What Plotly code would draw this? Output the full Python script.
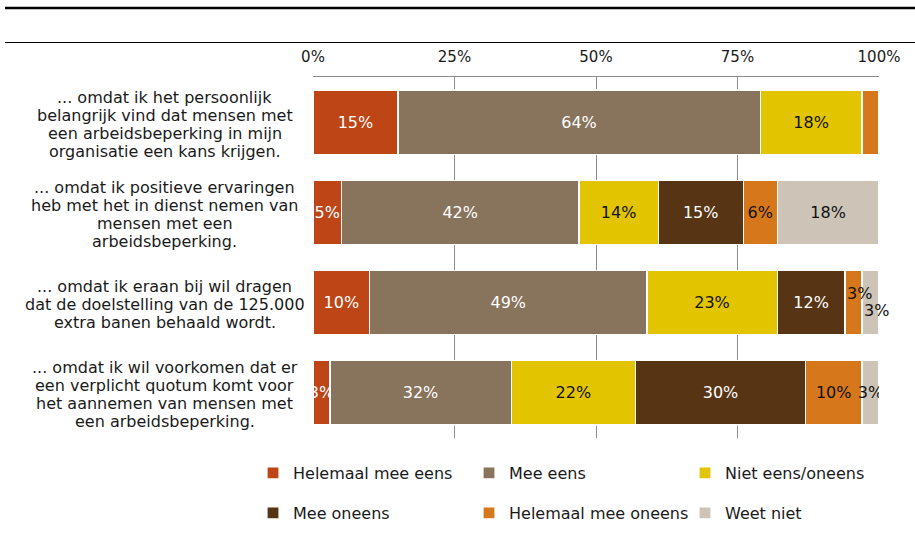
import plotly.graph_objects as go

# Survey statements (top to bottom)
categories = [
    "... omdat ik het persoonlijk<br>belangrijk vind dat mensen met<br>een arbeidsbeperking in mijn<br>organisatie een kans krijgen.",
    "... omdat ik positieve ervaringen<br>heb met het in dienst nemen van<br>mensen met een<br>arbeidsbeperking.",
    "... omdat ik eraan bij wil dragen<br>dat de doelstelling van de 125.000<br>extra banen behaald wordt.",
    "... omdat ik wil voorkomen dat er<br>een verplicht quotum komt voor<br>het aannemen van mensen met<br>een arbeidsbeperking.",
]

# Answer categories and their shares (%) per statement
answers = ["Helemaal mee eens", "Mee eens", "Niet eens/oneens",
           "Mee oneens", "Helemaal mee oneens", "Weet niet"]
helemaal_mee_eens = [15, 5, 10, 3]
mee_eens = [64, 42, 49, 32]
niet_eens_oneens = [18, 14, 23, 22]
mee_oneens = [0, 15, 12, 30]
helemaal_mee_oneens = [3, 6, 3, 10]
weet_niet = [0, 18, 3, 3]

series = [helemaal_mee_eens, mee_eens, niet_eens_oneens,
          mee_oneens, helemaal_mee_oneens, weet_niet]

colors = ["#BD4516", "#88735C", "#E2C400", "#573514", "#D7771C", "#CDC4B7"]
text_colors = ["white", "white", "#111111", "white", "#111111", "#111111"]

# Labels that are not printed inside the bar, or that are printed with a vertical offset
hidden = {(4, 0)}
offset_labels = {(4, 2): -9, (5, 2): 8}

FONT = "DejaVu Sans"
W, H = 915, 560
ML, MR, MT, MB = 313, 36, 77, 122
LABEL_SIZE = 16

fig = go.Figure()
for i, (name, vals) in enumerate(zip(answers, series)):
    texts = []
    for j, v in enumerate(vals):
        if v == 0 or (i, j) in hidden or (i, j) in offset_labels:
            texts.append("")
        else:
            texts.append(f"{v}%")
    fig.add_trace(go.Bar(
        y=categories, x=vals, name=name, orientation="h",
        marker=dict(color=colors[i], line=dict(color="white", width=1.2)),
        text=texts, textposition="inside", insidetextanchor="middle",
        textangle=0, constraintext="none",
        textfont=dict(family=FONT, size=LABEL_SIZE, color=text_colors[i]),
        width=0.71, hoverinfo="skip",
        legend="legend" if i < 3 else "legend2",
    ))

# Labels for narrow segments, placed at the segment midpoints
annotations = []
for (i, j), dy in offset_labels.items():
    start = sum(series[k][j] for k in range(i))
    annotations.append(dict(
        x=start + series[i][j] / 2 + 1, y=categories[j], xref="x", yref="y",
        text=f"{series[i][j]}%", showarrow=False, yshift=-dy,
        font=dict(family=FONT, size=LABEL_SIZE, color=text_colors[i]),
    ))

plot_w = W - ML - MR
plot_h = H - MT - MB


def px_x(px):
    return (px - ML) / plot_w


def px_y(py):
    return 1 + (MT - py) / plot_h


# Statement labels, centred in the left margin, one annotation per line
LINE_H = 18
for c in categories:
    lines = c.split("<br>")
    n = len(lines)
    for k, line in enumerate(lines):
        annotations.append(dict(
            x=px_x(165), y=c, xref="paper", yref="y",
            text=line, showarrow=False, align="center", xanchor="center",
            yanchor="middle", yshift=((n - 1) / 2 - k) * LINE_H - 2,
            font=dict(family=FONT, size=16, color="#1a1a1a"),
        ))

shapes = [
    dict(type="line", xref="paper", yref="paper", x0=px_x(5), x1=px_x(915),
         y0=px_y(8), y1=px_y(8), line=dict(color="black", width=2.5)),
    dict(type="line", xref="paper", yref="paper", x0=px_x(5), x1=px_x(915),
         y0=px_y(42.5), y1=px_y(42.5), line=dict(color="black", width=1)),
]

legend_common = dict(
    orientation="h", x=px_x(253), xanchor="left", yanchor="top",
    entrywidth=171, entrywidthmode="pixels",
    font=dict(family=FONT, size=16, color="#1a1a1a"),
    bgcolor="rgba(0,0,0,0)", traceorder="normal",
)

fig.update_layout(
    width=W, height=H, barmode="stack",
    margin=dict(l=ML, r=MR, t=MT, b=MB, autoexpand=False),
    paper_bgcolor="white", plot_bgcolor="white",
    font=dict(family=FONT, size=14, color="#1a1a1a"),
    xaxis=dict(side="top", range=[0, 100], tickvals=[0, 25, 50, 75, 100],
               ticktext=["0%", "25%", "50%", "75%", "100%"],
               showgrid=True, gridcolor="#8c8c8c", gridwidth=1,
               showline=True, linecolor="#8c8c8c", linewidth=1,
               ticks="", zeroline=False, fixedrange=True,
               ticklabelstandoff=8,
               tickfont=dict(family=FONT, size=15, color="#1a1a1a")),
    yaxis=dict(autorange="reversed", showticklabels=False, showgrid=False,
               showline=False, ticks="", fixedrange=True),
    legend=dict(legend_common, y=px_y(456)),
    legend2=dict(legend_common, y=px_y(496)),
    uniformtext=dict(minsize=LABEL_SIZE, mode="show"),
    annotations=annotations, shapes=shapes,
    bargap=0.29,
)

fig.write_html("out.html")
